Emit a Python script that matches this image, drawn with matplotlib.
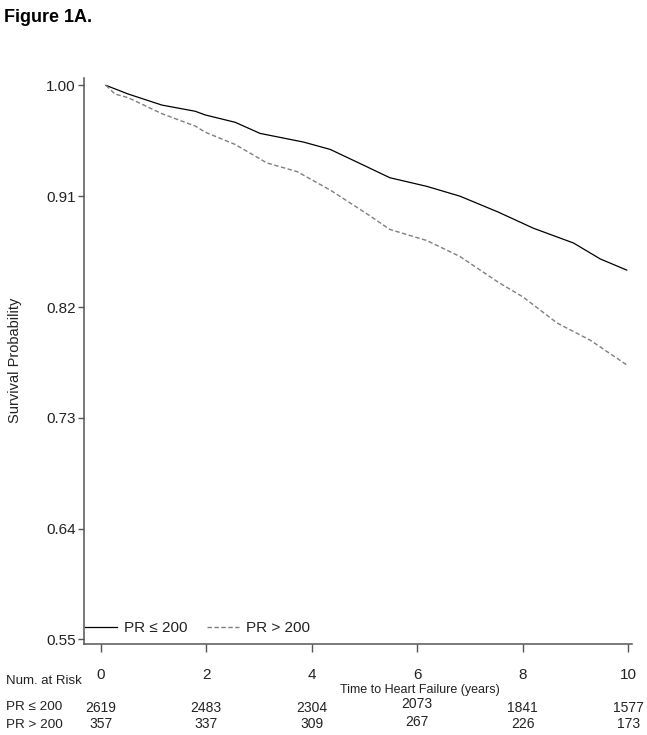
import matplotlib
matplotlib.use("Agg")
import matplotlib.pyplot as plt
import matplotlib.transforms as mtransforms

plt.rcParams['font.family'] = ['Liberation Sans', 'DejaVu Sans']

# ---- data ----
t_le = [0.10, 0.52, 1.16, 1.79, 1.98, 2.55, 3.02, 3.84, 4.35, 5.04, 5.48,
        6.18, 6.81, 7.54, 8.20, 8.96, 9.47, 9.97]
s_le = [1.000, 0.993, 0.984, 0.979, 0.976, 0.970, 0.961, 0.954, 0.948, 0.934,
        0.925, 0.918, 0.910, 0.897, 0.884, 0.872, 0.859, 0.850]

t_gt = [0.10, 0.27, 0.52, 1.16, 1.79, 1.98, 2.55, 3.15, 3.72, 4.35, 5.07,
        5.48, 6.18, 6.81, 7.54, 8.01, 8.65, 9.28, 9.97]
s_gt = [1.000, 0.993, 0.990, 0.977, 0.967, 0.962, 0.952, 0.937, 0.930, 0.915,
        0.895, 0.883, 0.874, 0.861, 0.840, 0.828, 0.807, 0.793, 0.773]

risk_times = [0, 2, 4, 6, 8, 10]
risk_le = [2619, 2483, 2304, 2073, 1841, 1577]
risk_gt = [357, 337, 309, 267, 226, 173]

y_ticks = [0.55, 0.64, 0.73, 0.82, 0.91, 1.00]
x_ticks = [0, 2, 4, 6, 8, 10]

label_le = "PR \u2264 200"
label_gt = "PR > 200"

# ---- figure ----
W, H = 647, 735
fig = plt.figure(figsize=(W / 100, H / 100), dpi=100)
ax = fig.add_axes([84 / W, 1 - 644 / H, (632 - 84) / W, (644 - 78) / H])

ax.plot(t_le, s_le, color='black', lw=0.9, label=label_le)
ax.plot(t_gt, s_gt, color='#7f7f7f', lw=1.0, dashes=(3.2, 1.8), label=label_gt)

ax.set_xlim(-0.317, 10.07)
ax.set_ylim(0.5463, 1.006)
ax.set_yticks(y_ticks)
ax.set_yticklabels([f"{v:.2f}" for v in y_ticks])
ax.set_xticks(x_ticks)

for s in ['top', 'right']:
    ax.spines[s].set_visible(False)
for s in ['left', 'bottom']:
    ax.spines[s].set_color('#555555')
    ax.spines[s].set_linewidth(1.1)

ax.tick_params(axis='y', direction='out', length=4.5, width=1.0, color='#555555',
               pad=1.5, labelsize=11, labelcolor='#222222')
ax.tick_params(axis='x', direction='out', length=6, width=1.0, color='#555555',
               pad=11, labelsize=11, labelcolor='#222222')

leg = ax.legend(loc='center left', bbox_to_anchor=(0.002, 0.028), ncol=2,
                frameon=False, fontsize=11, handlelength=2.1, handletextpad=0.45,
                columnspacing=1.25, borderpad=0, borderaxespad=0)
for txt in leg.get_texts():
    txt.set_color('#222222')

# title
fig.text(4 / W, 1 - 18 / H, "Figure 1A.", fontsize=13, fontweight='bold',
         ha='left', va='center')

# y label
fig.text(15 / W, 1 - 360 / H, "Survival Probability", rotation=90,
         fontsize=10.5, ha='center', va='center', color='#222222')

# x label
trans = mtransforms.blended_transform_factory(ax.transData, fig.transFigure)
ax.text(6.05, 1 - 690 / H, "Time to Heart Failure (years)", transform=trans,
        fontsize=9, ha='center', va='center', color='#222222')

# number at risk table
fig.text(6 / W, 1 - 681 / H, "Num. at Risk", fontsize=9.5, ha='left',
         va='center', color='#222222')
fig.text(6 / W, 1 - 707.5 / H, label_le, fontsize=9.7, ha='left', va='center',
         color='#222222')
fig.text(6 / W, 1 - 724.5 / H, label_gt, fontsize=9.7, ha='left', va='center',
         color='#222222')
for t, a, b in zip(risk_times, risk_le, risk_gt):
    shift = 3 if t == 6 else 0
    ax.text(t, 1 - (707.5 - shift) / H, str(a), transform=trans, fontsize=10,
            ha='center', va='center', color='#222222')
    ax.text(t, 1 - (724.5 - shift) / H, str(b), transform=trans, fontsize=10,
            ha='center', va='center', color='#222222')

fig.savefig("out.png", dpi=100)
